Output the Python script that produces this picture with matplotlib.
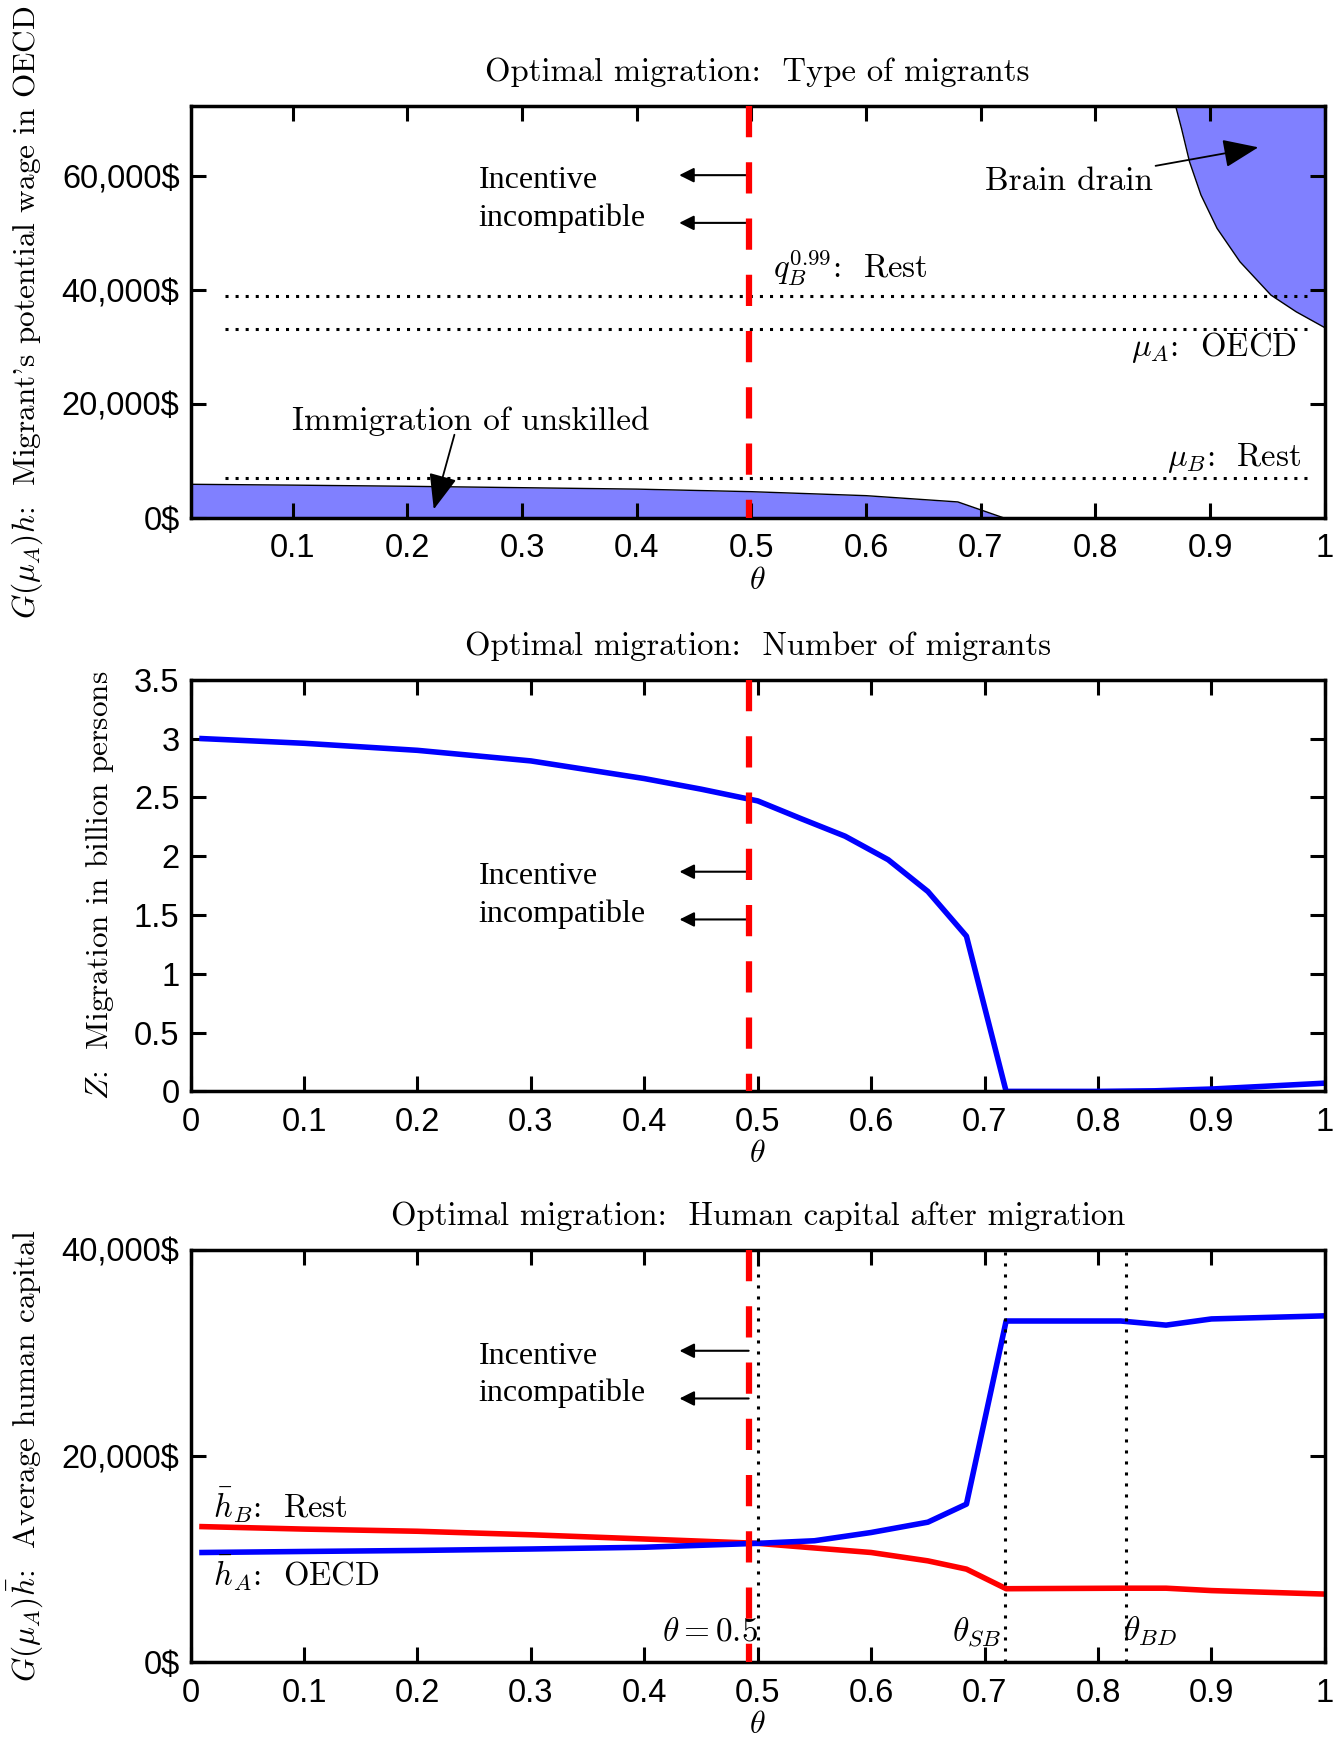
import matplotlib
matplotlib.use("Agg")
import matplotlib.pyplot as plt
from matplotlib.ticker import FormatStrFormatter

plt.rcParams['font.family'] = ['Liberation Sans', 'DejaVu Sans']
plt.rcParams['mathtext.fontset'] = 'cm'

# --- data ---
# panel 1: type of migrants
theta_unsk = [0.01, 0.1, 0.2, 0.3, 0.4, 0.5, 0.6, 0.68, 0.72]
wage_unsk = [5900, 5750, 5550, 5300, 5050, 4600, 3900, 2800, 0]
theta_bd = [0.870, 0.875, 0.882, 0.892, 0.906, 0.926, 0.953, 0.975, 1.0]
wage_bd = [72250, 68400, 62540, 56690, 50840, 44970, 39120, 36190, 33400]
q99_rest = 39000
mu_oecd = 33100
mu_rest = 7000

# panel 2: number of migrants (billion)
theta_z = [0.01, 0.1, 0.2, 0.3, 0.4, 0.45, 0.5, 0.538, 0.577, 0.615, 0.65, 0.684, 0.719, 0.8, 0.85, 0.9, 1.0]
z_mig = [3.00, 2.96, 2.90, 2.81, 2.66, 2.57, 2.47, 2.32, 2.17, 1.97, 1.70, 1.32, 0.0, 0.0, 0.005, 0.02, 0.07]

# panel 3: average human capital
theta_h = [0.01, 0.1, 0.2, 0.3, 0.4, 0.5, 0.55, 0.6, 0.65, 0.684, 0.719, 0.82, 0.86, 0.9, 1.0]
h_oecd = [10660, 10760, 10860, 11000, 11170, 11550, 11800, 12600, 13600, 15350, 33100, 33100, 32700, 33300, 33600]
h_rest = [13170, 12930, 12720, 12380, 11970, 11550, 11100, 10660, 9850, 9050, 7150, 7200, 7200, 6970, 6630]

theta_cut_top = 0.498   # red line as placed in the first panel
theta_cut = 0.492       # red line in the two lower panels
theta_sb = 0.718
theta_bdl = 0.825

xticks = [0, 0.1, 0.2, 0.3, 0.4, 0.5, 0.6, 0.7, 0.8, 0.9, 1.0]
wage_ticks = [0, 20000, 40000, 60000]
wage_labels = [r'0\$', r'20,000\$', r'40,000\$', r'60,000\$']
z_ticks = [0, 0.5, 1, 1.5, 2, 2.5, 3, 3.5]
h_ticks = [0, 20000, 40000]
h_labels = [r'0\$', r'20,000\$', r'40,000\$']

CM = 'cmr10'
TIMES = 'Liberation Serif'
BLUE = '#0000ff'
RED = '#ff0000'
FILL = '#8080ff'

fig = plt.figure(figsize=(13.37, 17.39), dpi=100)
ax1 = fig.add_axes([0.1426, 0.7022, 0.8483, 0.2366])
ax2 = fig.add_axes([0.1426, 0.3724, 0.8483, 0.2367])
ax3 = fig.add_axes([0.1426, 0.0440, 0.8483, 0.2373])


def style(ax):
    for s in ax.spines.values():
        s.set_linewidth(2.5)
    ax.tick_params(direction='in', top=True, right=True, length=11, width=2.2,
                   labelsize=23.5)
    ax.tick_params(axis='x', pad=11)
    ax.tick_params(axis='y', pad=8)
    ax.xaxis.set_major_formatter(FormatStrFormatter('%g'))
    ax.set_xlabel(r'$\theta$', fontsize=23, labelpad=1)


def cut_line(ax, xc, top):
    ax.plot([xc, xc], [top, 0], color=RED, lw=4.5, dashes=(5, 4), zorder=4)


def incentive(ax, xtext, xc, ytext, yarrows):
    ax.text(xtext, ytext, 'Incentive\nincompatible',
            family=TIMES, fontsize=23, ha='left', va='center', linespacing=1.35)
    for y in yarrows:
        ax.annotate('', xy=(xc - 0.061, y), xytext=(xc, y),
                    arrowprops=dict(arrowstyle='-|>', color='black', lw=1.5,
                                    mutation_scale=22, shrinkA=0, shrinkB=0))


head = dict(arrowstyle='-|>,head_length=0.55,head_width=0.22', color='black', lw=1.3,
            mutation_scale=40, shrinkA=0, shrinkB=0)

# ---------- panel 1 ----------
ytop1 = 72250
ax1.fill_between(theta_unsk, 0, wage_unsk, color=FILL, lw=0)
ax1.plot(theta_unsk, wage_unsk, color='black', lw=1)
ax1.fill_between(theta_bd, wage_bd, ytop1, color=FILL, lw=0)
ax1.plot(theta_bd, wage_bd, color='black', lw=1)
for yv in [q99_rest, mu_oecd, mu_rest]:
    ax1.axhline(yv, xmin=0.03, xmax=0.99, color='black', lw=2.2, dashes=(1, 2.3))
cut_line(ax1, theta_cut_top, ytop1)
ax1.set_xlim(0.011, 1)
ax1.set_ylim(0, ytop1)
ax1.set_xticks(xticks[1:])
ax1.set_yticks(wage_ticks)
ax1.set_yticklabels(wage_labels)
style(ax1)
ax1.set_title('Optimal migration:  Type of migrants', family=CM, fontsize=23.5, pad=18)
ax1.set_ylabel(r"$G(\mu_A)h$:  Migrant's potential wage in OECD", family=CM, fontsize=22.5)
ax1.yaxis.set_label_coords(-0.128, 0.5)
incentive(ax1, 0.262, theta_cut_top, 55900, [60180, 51800])
ax1.text(0.519, 44000, r'$q_B^{0.99}$:  Rest', family=CM, fontsize=23.5, ha='left', va='center')
ax1.text(0.976, 29970, r'$\mu_A$:  OECD', family=CM, fontsize=23.5, ha='right', va='center')
ax1.text(0.979, 10570, r'$\mu_B$:  Rest', family=CM, fontsize=23.5, ha='right', va='center')
ax1.annotate('Brain drain', xy=(0.942, 65070), xytext=(0.850, 59070),
             family=CM, fontsize=24, ha='right', va='center', arrowprops=head)
ax1.text(0.255, 16940, 'Immigration of unskilled', family=CM, fontsize=24,
         ha='center', va='center')
ax1.annotate('', xy=(0.223, 1500), xytext=(0.241, 14600), arrowprops=head)

# ---------- panel 2 ----------
ax2.plot(theta_z, z_mig, color=BLUE, lw=4)
cut_line(ax2, theta_cut, 3.5)
ax2.set_xlim(0, 1)
ax2.set_ylim(0, 3.5)
ax2.set_xticks(xticks)
ax2.set_yticks(z_ticks)
ax2.yaxis.set_major_formatter(FormatStrFormatter('%g'))
style(ax2)
ax2.set_title('Optimal migration:  Number of migrants', family=CM, fontsize=23.5, pad=18)
ax2.set_ylabel(r'$Z$:  Migration in billion persons', family=CM, fontsize=22.5)
ax2.yaxis.set_label_coords(-0.066, 0.5)
incentive(ax2, 0.254, theta_cut, 1.665, [1.868, 1.462])

# ---------- panel 3 ----------
for xv in [0.5, theta_sb, theta_bdl]:
    ax3.axvline(xv, color='black', lw=2.2, dashes=(1, 2.6), zorder=3)
ax3.plot(theta_h, h_rest, color=RED, lw=4, zorder=2)
ax3.plot(theta_h, h_oecd, color=BLUE, lw=4, zorder=2)
cut_line(ax3, theta_cut, 40000)
ax3.set_xlim(0, 1)
ax3.set_ylim(0, 40000)
ax3.set_xticks(xticks)
ax3.set_yticks(h_ticks)
ax3.set_yticklabels(h_labels)
style(ax3)
ax3.set_title('Optimal migration:  Human capital after migration', family=CM, fontsize=23.5, pad=18)
ax3.set_ylabel(r'$G(\mu_A)\bar{h}$:  Average human capital', family=CM, fontsize=22.5)
ax3.yaxis.set_label_coords(-0.128, 0.5)
incentive(ax3, 0.254, theta_cut, 27850, [30215, 25590])
ax3.text(0.02, 15240, r'$\bar{h}_B$:  Rest', family=CM, fontsize=23.5, ha='left', va='center')
ax3.text(0.02, 8690, r'$\bar{h}_A$:  OECD', family=CM, fontsize=23.5, ha='left', va='center')
ax3.text(0.5, 3000, r'$\theta = 0.5$', fontsize=24, ha='right', va='center')
ax3.text(theta_sb - 0.003, 3000, r'$\theta_{SB}$', fontsize=24, ha='right', va='center')
ax3.text(theta_bdl - 0.003, 3000, r'$\theta_{BD}$', fontsize=24, ha='left', va='center')

fig.savefig('out.png', dpi=100)
